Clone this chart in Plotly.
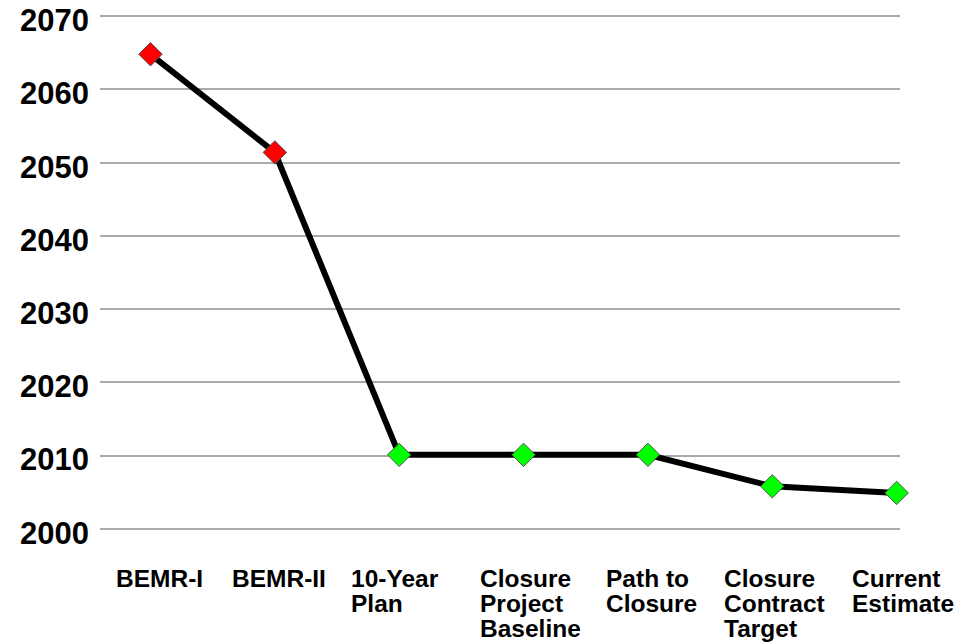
import plotly.graph_objects as go

categories = ["BEMR-I", "BEMR-II", "10-Year Plan", "Closure Project Baseline",
              "Path to Closure", "Closure Contract Target", "Current Estimate"]
category_label_lines = [["BEMR-I"], ["BEMR-II"], ["10-Year", "Plan"],
                        ["Closure", "Project", "Baseline"], ["Path to", "Closure"],
                        ["Closure", "Contract", "Target"], ["Current", "Estimate"]]
completion_year = [2064.8, 2051.4, 2010.1, 2010.1, 2010.1, 2005.8, 2004.9]
marker_colors = ["#ff0000", "#ff0000", "#00ff00", "#00ff00", "#00ff00", "#00ff00", "#00ff00"]
y_ticks = [2000, 2010, 2020, 2030, 2040, 2050, 2060, 2070]

# style: horizontal offset of each left-aligned label block from its category
label_left_offset = [-36, -45, -50, -46, -44, -50, -47]
line_step = 25
first_line_shift = -32

fig = go.Figure()
fig.add_trace(go.Scatter(
    x=categories, y=completion_year, mode="lines+markers",
    line=dict(color="black", width=6),
    marker=dict(symbol="diamond", size=18, color=marker_colors,
                line=dict(color="#505050", width=1)),
    cliponaxis=False, showlegend=False,
))

for cat, lines, off in zip(categories, category_label_lines, label_left_offset):
    for k, line in enumerate(lines):
        fig.add_annotation(x=cat, y=0, xref="x", yref="paper", text=line,
                           showarrow=False, xanchor="left", yanchor="top",
                           align="left", xshift=off,
                           yshift=first_line_shift - k * line_step,
                           font=dict(family="Liberation Sans", size=24.5,
                                     color="black", weight="bold"))

fig.update_layout(
    width=957, height=634,
    margin=dict(l=92, r=65, t=6, b=111, autoexpand=False),
    paper_bgcolor="white", plot_bgcolor="white",
    xaxis=dict(type="category", range=[-0.406, 6.027], showticklabels=False,
               showgrid=False, zeroline=False, showline=False, automargin=False),
    yaxis=dict(range=[1999.7, 2070.3], tickvals=y_ticks,
               ticktext=[str(v) for v in y_ticks],
               showgrid=True, gridcolor="#aaaaaa", gridwidth=1.5,
               zeroline=False, showline=False, automargin=False,
               tickfont=dict(family="Liberation Sans", size=31, color="black", weight="bold"),
               ticks="", ticklabelstandoff=10, ticklabelshift=4,
               ticklabeloverflow="allow"),
)

fig.write_html("out.html")
